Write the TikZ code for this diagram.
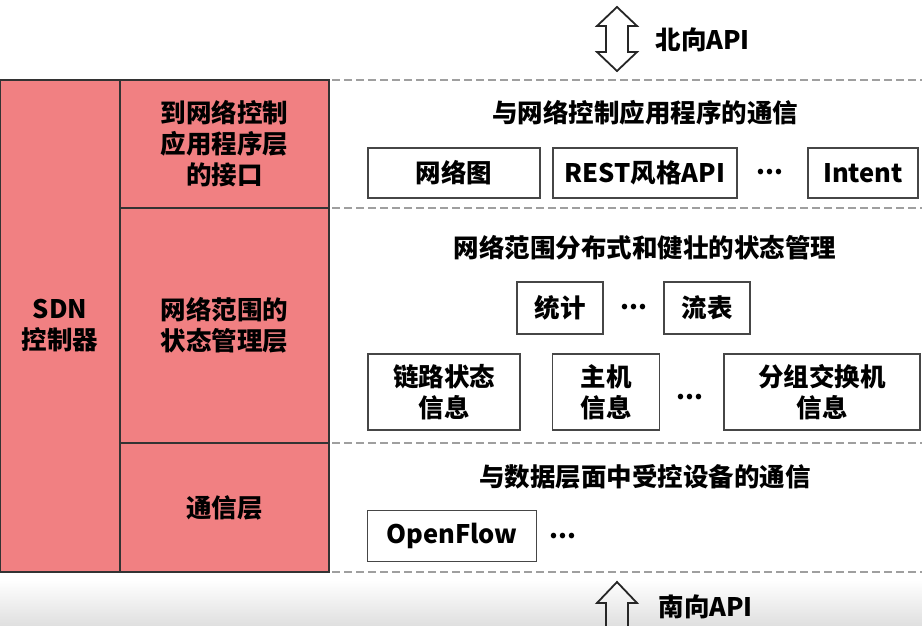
\documentclass[tikz,border=0pt]{standalone}
\usepackage{fontspec}
\setmainfont{Noto Sans CJK SC}
\usepackage{tikz}
\usetikzlibrary{positioning, calc}
\definecolor{sdnred}{RGB}{241,128,130}
\definecolor{edgegray}{RGB}{70,70,70}

\begin{document}
\begin{tikzpicture}[
    x=1pt, y=-1pt,
    panel/.style={rectangle, draw=black!80, line width=1.4pt, fill=sdnred,
                  inner sep=0pt, outer sep=0pt, align=center,
                  font=\fontsize{25.5}{31}\selectfont\bfseries},
    item/.style={rectangle, draw=edgegray, line width=1.8pt, fill=white,
                 inner sep=0pt, align=center,
                 font=\fontsize{25.5}{31}\selectfont\bfseries},
    title/.style={font=\fontsize{25.5}{31}\selectfont\bfseries},
    dots/.style={font=\fontsize{25.5}{31}\selectfont\bfseries},
    sep/.style={draw=gray!75, line width=2pt, dash pattern=on 8pt off 4pt},
    apiarrow/.style={draw=black!85, line width=1.8pt, line join=miter}
]
\useasboundingbox (0,0) rectangle (922,626);
\fill[top color=white, bottom color=gray!25] (0,580) rectangle (922,626);
\coordinate (r) at (922,0);

% controller layers
\node[panel, minimum width=120pt, minimum height=492pt] (sdn) at (60,326) {SDN\\控制器};
\node[panel, minimum width=209pt, minimum height=128pt] (nbi) at (224.5,144) {到网络控制\\应用程序层\\的接口};
\node[panel, minimum width=209pt, minimum height=235pt] (state) at (224.5,325.5) {网络范围的\\状态管理层};
\node[panel, minimum width=209pt, minimum height=129pt] (comm) at (224.5,507.5) {通信层};

% layer separators
\draw[sep] ([xshift=3pt]nbi.north east) -- (nbi.north east -| r);
\draw[sep] ([xshift=3pt]state.north east) -- (state.north east -| r);
\draw[sep] ([xshift=3pt]comm.north east) -- (comm.north east -| r);
\draw[sep] ([xshift=3pt]comm.south east) -- (comm.south east -| r);

% northbound
\draw[apiarrow, fill=white] (617,7) -- (637,26) -- (628,26) -- (628,52) -- (637,52)
    -- (617,71) -- (597,52) -- (606,52) -- (606,26) -- (597,26) -- cycle;
\node[title, anchor=west] (nb) at (652,40) {北向API};

\node[title] (t1) at (645,113) {与网络控制应用程序的通信};
\node[item, minimum width=172pt, minimum height=50pt] (graph) at (454,173) {网络图};
\node[item, minimum width=184pt, minimum height=50pt] (rest) at (645,173) {REST风格API};
\node[dots] (d1) at (770,172) {...};
\node[item, minimum width=110pt, minimum height=50pt] (intent) at (863,173) {Intent};

% state management
\node[title] (t2) at (645,248) {网络范围分布式和健壮的状态管理};
\node[item, minimum width=86pt, minimum height=52pt] (stats) at (560,308) {统计};
\node[dots] (d2) at (634,307) {...};
\node[item, minimum width=86pt, minimum height=52pt] (flow) at (707,308) {流表};
\node[item, minimum width=152pt, minimum height=76pt] (link) at (444,392) {链路状态\\信息};
\node[item, minimum width=107pt, minimum height=76pt] (host) at (606,392) {主机\\信息};
\node[dots] (d3) at (690,397) {...};
\node[item, minimum width=196pt, minimum height=76pt] (switch) at (822,392) {分组交换机\\信息};

% southbound
\node[title] (t3) at (645,477) {与数据层面中受控设备的通信};
\node[item, minimum width=169pt, minimum height=51pt] (of) at (452,536) {OpenFlow};
\node[dots] (d4) at (563,536) {...};

\draw[apiarrow] (606,630) -- (606,603) -- (597,603) -- (617,582) -- (637,603)
    -- (628,603) -- (628,630);
\node[title, anchor=west] (sb) at (655,607) {南向API};
\end{tikzpicture}
\end{document}
